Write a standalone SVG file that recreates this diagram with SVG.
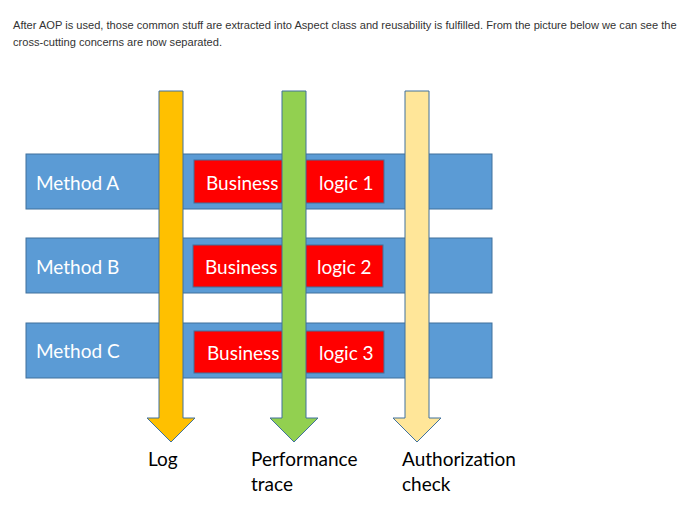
<svg xmlns="http://www.w3.org/2000/svg" width="695" height="505" viewBox="0 0 695 505">
<style>
.intro{font-family:"Liberation Sans",Arial,sans-serif;font-size:11.1px;fill:#333333}
.bar{fill:#5B9BD5;stroke:#41719C;stroke-width:1}
.biz{fill:#FF0000;stroke:#41719C;stroke-width:1}
.w{font-family:Lato,"Open Sans",sans-serif;font-size:19px;fill:#FFFFFF}
.lbl{font-family:Lato,"Open Sans",sans-serif;font-size:19px;fill:#000000}
.arrow{stroke:#41719C;stroke-width:1}
</style>
<rect width="695" height="505" fill="#FFFFFF"/>
<text class="intro" x="13" y="29">After AOP is used, those common stuff are extracted into Aspect class and reusability is fulfilled. From the picture below we can see the</text>
<text class="intro" x="13" y="46">cross-cutting concerns are now separated.</text>

<g id="methodA">
<rect class="bar" x="26" y="154" width="466" height="55"/>
<text class="w" x="36" y="190">Method A</text>
</g>
<g id="methodB">
<rect class="bar" x="26" y="238" width="466" height="55"/>
<text class="w" x="36" y="274">Method B</text>
</g>
<g id="methodC">
<rect class="bar" x="26" y="323" width="466" height="55"/>
<text class="w" x="36" y="358">Method C</text>
</g>

<g id="logicA">
<rect class="biz" x="194" y="160" width="190" height="43"/>
<text class="w" x="206" y="190">Business</text>
<text class="w" x="319" y="190">logic 1</text>
</g>
<g id="logicB">
<rect class="biz" x="193" y="245" width="190" height="42"/>
<text class="w" x="205" y="274">Business</text>
<text class="w" x="317" y="274">logic 2</text>
</g>
<g id="logicC">
<rect class="biz" x="194" y="331" width="190" height="42"/>
<text class="w" x="207" y="360">Business</text>
<text class="w" x="319" y="360">logic 3</text>
</g>

<g id="connectors">
<g id="log">
<path class="arrow" fill="#FFC000" d="M159,91 H183 V418 H195 L171,442 L147,418 H159 Z"/>
</g>
<g id="perf">
<path class="arrow" fill="#92D050" d="M282,91 H306 V418 H318 L294,442 L270,418 H282 Z"/>
</g>
<g id="auth">
<path class="arrow" fill="#FFE699" d="M405,91 H429 V418 H441 L417,442 L393,418 H405 Z"/>
</g>
</g>

<g id="labels">
<text class="lbl" x="148" y="466">Log</text>
<text class="lbl" x="251" y="466">Performance</text>
<text class="lbl" x="251" y="491">trace</text>
<text class="lbl" x="402" y="466">Authorization</text>
<text class="lbl" x="402" y="491">check</text>
</g>
</svg>
